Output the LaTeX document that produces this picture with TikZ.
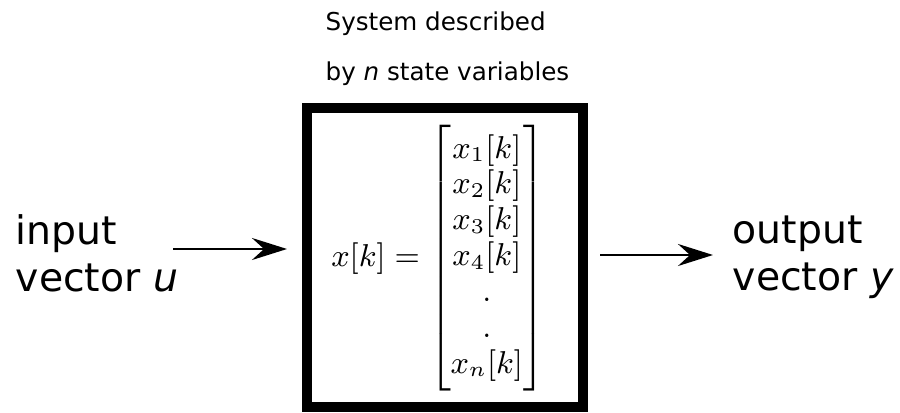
\documentclass[tikz,border=0pt]{standalone}
\usepackage{fontspec}
\setmainfont{DejaVu Sans}[ItalicFont={DejaVu Sans Oblique}]
\usepackage{amsmath}
\usepackage{tikz}
\usetikzlibrary{arrows.meta, positioning, calc}

\begin{document}
\begin{tikzpicture}[
    sysbox/.style={rectangle, draw, line width=0.1cm, inner sep=0pt, minimum width=2.76cm, minimum height=2.99cm},
    label/.style={align=left, inner sep=0pt, font=\fontsize{11.2}{13.1}\selectfont},
    arrow/.style={-{Stealth[length=0.35cm, width=0.22cm, inset=0.12cm]}, line width=0.8pt}
]
    \useasboundingbox (0, 0) rectangle (9, 4.12);

    % System
    \node[sysbox] (sys) at (4.45, 1.545) {};
    \node[inner sep=0pt, font=\fontsize{9.2}{10.2}\selectfont] (state) at (4.38, 1.535)
        {$\delimitershortfall=0pt x[k] = \begin{bmatrix} x_1[k]\\ x_2[k]\\ x_3[k]\\ x_4[k]\\ .\\ .\\ x_n[k] \end{bmatrix}$};
    \node[anchor=base west, align=left, inner sep=0pt, font=\fontsize{7}{14.2}\selectfont] (desc) at (3.25, 3.32)
        {System described\\by \textit{n} state variables};

    % Input
    \node[label, anchor=base west] (in) at (0.15, 1.21) {input\\vector \textit{u}};
    \coordinate (u0) at (1.73, 1.63);
    \draw[arrow, shorten >=0.15cm] (u0) -- (u0 -| sys.west);

    % Output
    \node[label, anchor=base west] (out) at (7.32, 1.22) {output\\vector \textit{y}};
    \coordinate (y0) at (7.13, 1.57);
    \draw[arrow, shorten <=0.12cm] (y0 -| sys.east) -- (y0);
\end{tikzpicture}
\end{document}
